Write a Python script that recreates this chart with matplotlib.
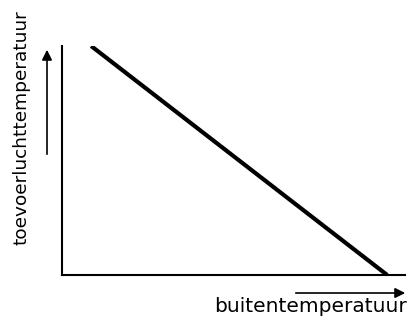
import matplotlib
matplotlib.use('Agg')
import matplotlib.pyplot as plt

# buitentemperatuur vs toevoerluchttemperatuur (schematic, axis units 0-100)
buiten_temp = [8.5, 94.8]
toevoer_temp = [100, 0]

x_label = 'buitentemperatuur'
y_label = 'toevoerluchttemperatuur'

fig = plt.figure(figsize=(4.1, 3.2), dpi=100)
ax = fig.add_axes([62 / 410, 45 / 320, 343 / 410, 229 / 320])

ax.plot(buiten_temp, toevoer_temp, color='black', linewidth=3, solid_capstyle='butt')
ax.set_xlim(0, 100)
ax.set_ylim(0, 100)
ax.set_xticks([])
ax.set_yticks([])
ax.spines['top'].set_visible(False)
ax.spines['right'].set_visible(False)
ax.spines['left'].set_linewidth(1.5)
ax.spines['bottom'].set_linewidth(1.5)

# arrows next to the axes
fig.add_artist(matplotlib.patches.FancyArrowPatch(
    (47 / 410, 1 - 157 / 320), (47 / 410, 1 - 47 / 320), transform=fig.transFigure,
    arrowstyle='-|>,head_length=6,head_width=3', color='black', linewidth=1.2))
fig.add_artist(matplotlib.patches.FancyArrowPatch(
    (293 / 410, 1 - 293 / 320), (408 / 410, 1 - 293 / 320), transform=fig.transFigure,
    arrowstyle='-|>,head_length=6,head_width=3', color='black', linewidth=1.2))

fig.text(407 / 410, 1 - 306 / 320, x_label, ha='right', va='center', fontsize=14.5)
fig.text(22 / 410, 1 - 128 / 320, y_label, ha='center', va='center', rotation=90, fontsize=13.3)

fig.savefig('out.png', dpi=100)
